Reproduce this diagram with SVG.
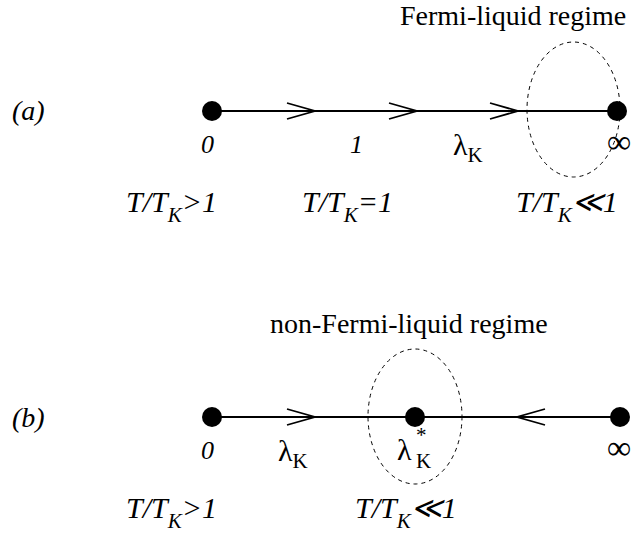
<svg xmlns="http://www.w3.org/2000/svg" width="636" height="536" viewBox="0 0 636 536">
<defs>
<style>
.dot{fill:#000}
.ln{stroke:#000;stroke-width:2;fill:none}
.chev{stroke:#000;stroke-width:1.8;fill:none}
.ell{stroke:#000;stroke-width:1;fill:none;stroke-dasharray:4 4}
</style>
</defs>
<rect width="636" height="536" fill="#fff"/>
<g id="connectors">
<line class="ln" x1="212" y1="111" x2="617" y2="111"/>
<path class="chev" d="M287,103 L315,111 L287,119"/>
<path class="chev" d="M389,103 L417,111 L389,119"/>
<path class="chev" d="M490,103 L518,111 L490,119"/>
<line class="ln" x1="212" y1="417" x2="620" y2="417"/>
<path class="chev" d="M287,409 L315,417 L287,425"/>
<path class="chev" d="M545,409 L517,417 L545,425"/>
</g>
<g id="panel-a">
<text font-family="Times New Roman" font-size="28" font-style="italic" x="12" y="120">(a)</text>
<text font-family="Times New Roman" font-size="28" x="400" y="25">Fermi-liquid regime</text>
<ellipse class="ell" cx="573.5" cy="109.5" rx="46.5" ry="67.5"/>
</g>
<g id="a-node-0">
<circle class="dot" cx="212" cy="111" r="10"/>
<text font-family="Times New Roman" font-size="26" font-style="italic" x="201" y="153">0</text>
</g>
<g id="a-label-1"><text font-family="Times New Roman" font-size="26" font-style="italic" x="350" y="153">1</text></g>
<g id="a-label-lambda"><text font-family="Times New Roman" font-size="30" x="453" y="155">λ<tspan font-size="21" dy="7">K</tspan></text></g>
<g id="a-node-inf">
<circle class="dot" cx="617" cy="111" r="10"/>
<text font-family="Times New Roman" font-size="34" x="607" y="153">∞</text>
</g>
<g id="a-temps">
<text font-family="Times New Roman" font-size="30" font-style="italic" x="126" y="212">T/T<tspan font-size="21" dy="10">K</tspan><tspan dy="-10">&gt;1</tspan></text>
<text font-family="Times New Roman" font-size="30" font-style="italic" x="302" y="212">T/T<tspan font-size="21" dy="10">K</tspan><tspan dy="-10">=1</tspan></text>
<text font-family="Times New Roman" font-size="30" font-style="italic" x="516" y="212">T/T<tspan font-size="21" dy="10">K</tspan><tspan dy="-10">≪1</tspan></text>
</g>
<g id="panel-b">
<text font-family="Times New Roman" font-size="28" font-style="italic" x="12" y="427">(b)</text>
<text font-family="Times New Roman" font-size="28" x="270" y="333">non-Fermi-liquid regime</text>
<ellipse class="ell" cx="415" cy="416.5" rx="47" ry="67.5"/>
</g>
<g id="b-node-0">
<circle class="dot" cx="212" cy="417" r="10"/>
<text font-family="Times New Roman" font-size="26" font-style="italic" x="201" y="459">0</text>
</g>
<g id="b-label-lambda"><text font-family="Times New Roman" font-size="30" x="278" y="461">λ<tspan font-size="21" dy="7">K</tspan></text></g>
<g id="b-node-star">
<circle class="dot" cx="415" cy="417" r="10"/>
<text font-family="Times New Roman" font-size="30" x="397" y="460">λ</text><text font-family="Times New Roman" font-size="21" x="416" y="442">*</text><text font-family="Times New Roman" font-size="21" x="416" y="468">K</text>
</g>
<g id="b-node-inf">
<circle class="dot" cx="620" cy="417" r="10"/>
<text font-family="Times New Roman" font-size="34" x="607" y="459">∞</text>
</g>
<g id="b-temps">
<text font-family="Times New Roman" font-size="30" font-style="italic" x="126" y="518">T/T<tspan font-size="21" dy="10">K</tspan><tspan dy="-10">&gt;1</tspan></text>
<text font-family="Times New Roman" font-size="30" font-style="italic" x="355" y="518">T/T<tspan font-size="21" dy="10">K</tspan><tspan dy="-10">≪1</tspan></text>
</g>
</svg>
